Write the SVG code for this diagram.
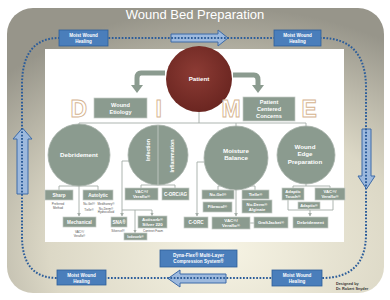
<svg xmlns="http://www.w3.org/2000/svg" width="390" height="300" viewBox="0 0 390 300">
<defs>
<radialGradient id="bg" cx="0.58" cy="0.85" r="0.85">
<stop offset="0" stop-color="#f6f3e3"/>
<stop offset="0.55" stop-color="#dcd8c6"/>
<stop offset="1" stop-color="#97958a"/>
</radialGradient>
<radialGradient id="pt" cx="0.45" cy="0.4" r="0.6">
<stop offset="0" stop-color="#8c3b34"/>
<stop offset="1" stop-color="#6b2621"/>
</radialGradient>
<marker id="ah" viewBox="0 0 6 6" refX="5" refY="3" markerWidth="4" markerHeight="4" orient="auto">
<path d="M0,0 L6,3 L0,6 Z" fill="#a4ada7"/>
</marker>
</defs>
<style>
.bx{fill:#8b9b8f;stroke:#c5ccc7;stroke-width:0.7}
.ci{fill:#8b9b8f;stroke:#a8b3ab;stroke-width:0.8}
.t{font-family:"Liberation Sans",Arial,sans-serif;font-weight:bold;fill:#fff;text-anchor:middle}
.s{font-size:4.6px}
.m{font-size:6.2px}
.tiny{font-family:"Liberation Sans",Arial,sans-serif;font-size:3px;fill:#555;text-anchor:middle}
.ln{fill:none;stroke:#a4ada7;stroke-width:0.9}
.lt{font-family:"Liberation Sans",Arial,sans-serif;font-weight:bold;font-size:23px;fill:#fff;stroke:#d6b48f;stroke-width:0.9}
.bl{fill:#4a7ebb;stroke:#2f5f9a;stroke-width:0.8}
.dot{fill:none;stroke:#2c5d9a;stroke-width:2;stroke-dasharray:1.7 1.6}
.arr{fill:#9db9dd;stroke:#3d6ba8;stroke-width:1}
</style>
<rect x="7" y="8" width="377" height="285" rx="26" fill="url(#bg)"/>
<text x="195" y="19" font-family="Liberation Sans, Arial, sans-serif" font-size="13" fill="#fff" text-anchor="middle">Wound Bed Preparation</text>
<rect x="45" y="49" width="299" height="193" fill="#fff"/>

<g id="arrows-big">
<path class="arr" d="M171,34 L218,34 L218,30 L228,38 L218,46 L218,42 L171,42 Z"/>
<path class="arr" d="M362,129 L371,129 L371,176 L375,176 L366.5,189 L358,176 L362,176 Z"/>
<path class="arr" d="M226,274 L180,274 L180,270 L168,278.5 L180,287 L180,283 L226,283 Z"/>
<path class="arr" d="M17,194 L28,194 L28,139 L32,139 L22.5,128 L13,139 L17,139 Z"/>
</g>
<path class="dot" d="M59,38 L321,38 Q366,38 366,88 L366,234 Q366,278 322,278 L57,278 Q22,278 22,236 L22,85 Q22,38 59,38 Z"/>

<g id="moist-tl"><rect class="bl" x="59" y="30" width="49" height="16"/><text class="t s" x="83.5" y="37">Moist Wound</text><text class="t s" x="83.5" y="43">Healing</text></g>
<g id="moist-tr"><rect class="bl" x="274" y="30" width="47" height="16"/><text class="t s" x="297.5" y="37">Moist Wound</text><text class="t s" x="297.5" y="43">Healing</text></g>
<g id="moist-bl"><rect class="bl" x="57" y="270" width="49" height="15"/><text class="t s" x="81.5" y="276.5">Moist Wound</text><text class="t s" x="81.5" y="282.5">Healing</text></g>
<g id="moist-br"><rect class="bl" x="272" y="270" width="50" height="16"/><text class="t s" x="297" y="277">Moist Wound</text><text class="t s" x="297" y="283">Healing</text></g>
<g id="dynaflex"><rect class="bl" x="160" y="250" width="77" height="17"/><text class="t s" x="198.5" y="257">Dyna-Flex® Multi-Layer</text><text class="t s" x="198.5" y="263">Compression System®</text></g>

<g id="connectors">
<path class="ln" d="M199,112 V123 M79,123 H306 M79,123 V125 M236,123 V127 M306,123 V127"/>
<path d="M165,73 H141 Q137,73 137,78 V86" fill="none" stroke="#8b9b8f" stroke-width="5"/>
<path d="M131,85 H143 L137,93 Z" fill="#8b9b8f"/>
<path d="M233,75 H254 Q258,75 258,80 V86" fill="none" stroke="#8b9b8f" stroke-width="5"/>
<path d="M252,85 H264 L258,93 Z" fill="#8b9b8f"/>
<path class="ln" d="M59,190 V186 H98 V190"/>
<path class="ln" d="M79,186 V216" marker-end="url(#ah)"/>
<path class="ln" d="M141,188 V185 H175 V188"/>
<path class="ln" d="M129,161 H122 V216" marker-end="url(#ah)"/>
<path class="ln" d="M122,210 H152 V215.5" marker-end="url(#ah)"/>
<path class="ln" d="M135,210 V232.5" marker-end="url(#ah)"/>
<path class="ln" d="M205,162 H197 V216" marker-end="url(#ah)"/>
<path class="ln" d="M236,190 V216" marker-end="url(#ah)"/>
<path class="ln" d="M218,190 V186 H255 V190"/>
<path class="ln" d="M250,223 H254"/>
<path class="ln" d="M306,184 V186 M293,188 V186 H330 V188"/>
<path class="ln" d="M288,200 V210 H333 V200"/>
<path class="ln" d="M310,210 V216" marker-end="url(#ah)"/>
<path class="ln" d="M308,208 V210"/>
</g>

<g id="patient"><circle cx="199" cy="79" r="33" fill="url(#pt)"/><text class="t m" x="199" y="81">Patient</text></g>
<g id="wound-etiology"><rect class="bx" x="94" y="98" width="53" height="20"/><text class="t" font-size="5.6" x="120.5" y="106.5">Wound</text><text class="t" font-size="5.6" x="120.5" y="113.5">Etiology</text></g>
<g id="pcc"><rect class="bx" x="243" y="97" width="52" height="24"/><text class="t" font-size="5.6" x="269" y="104">Patient</text><text class="t" font-size="5.6" x="269" y="111">Centered</text><text class="t" font-size="5.6" x="269" y="118">Concerns</text></g>
<g id="letters"><text class="lt" x="70.5" y="117">D</text><text class="lt" x="155.5" y="117">I</text><text class="lt" x="221.5" y="117">M</text><text class="lt" x="301.5" y="117">E</text></g>

<g id="debridement-c"><circle class="ci" cx="79" cy="155" r="31"/><text class="t m" x="79" y="157">Debridement</text></g>
<g id="infection-c"><circle class="ci" cx="158" cy="155" r="30"/><line x1="158" y1="125" x2="158" y2="185" stroke="#c8cec9" stroke-width="0.8"/><text class="t" font-size="5.3" transform="translate(150,150) rotate(-90)">Infection</text><text class="t" font-size="5.3" transform="translate(174,156) rotate(-90)">Inflammation</text></g>
<g id="moisture-c"><circle class="ci" cx="236" cy="158" r="32"/><text class="t m" x="236" y="152.5">Moisture</text><text class="t m" x="236" y="160">Balance</text></g>
<g id="edge-c"><circle class="ci" cx="306" cy="155" r="29"/><text class="t m" x="305" y="148.5">Wound</text><text class="t m" x="305" y="156">Edge</text><text class="t m" x="305" y="163.5">Preparation</text></g>

<g id="sharp"><rect class="bx" x="45" y="190" width="28" height="10"/><text class="t s" x="59" y="196.6">Sharp</text></g>
<text class="tiny" x="58" y="205">Preferred</text><text class="tiny" x="58" y="208.5">Method</text>
<g id="autolytic"><rect class="bx" x="83" y="190" width="30" height="10"/><text class="t s" x="98" y="196.6">Autolytic</text></g>
<text class="tiny" x="89" y="205">Nu-Gel®</text><text class="tiny" x="89" y="211">Tielle®</text>
<text class="tiny" x="106" y="205">Medihoney®</text><text class="tiny" x="106" y="209.5">Nu-Derm®</text><text class="tiny" x="106" y="212.5">Hydrocolloid</text>
<g id="mechanical"><rect class="bx" x="63" y="217" width="33" height="10"/><text class="t s" x="79.5" y="223.6">Mechanical</text></g>
<text class="tiny" x="79.5" y="233">VAC®/</text><text class="tiny" x="79.5" y="237">Veraflo®</text>

<g id="vac-inf"><rect class="bx" x="125" y="188" width="33" height="12"/><text class="t" font-size="4.2" x="141.5" y="193">VAC®/</text><text class="t" font-size="4.2" x="141.5" y="198">Veraflo®</text></g>
<g id="corcag"><rect class="bx" x="162" y="188" width="27" height="12"/><text class="t s" x="175.5" y="195.6">C-ORC/AG</text></g>
<g id="sna"><rect class="bx" x="111" y="217" width="16" height="10"/><text class="t s" x="119" y="223.6">SNA®</text></g>
<text class="tiny" x="118" y="232">Silvercel®</text>
<g id="actisorb"><rect class="bx" x="138" y="216" width="29" height="12"/><text class="t" font-size="4.4" x="152.5" y="221">Actisorb®</text><text class="t" font-size="4.4" x="152.5" y="226.3">Silver 220</text></g>
<text class="tiny" x="153" y="232">Contreet Foam</text>
<g id="iodosorb"><rect class="bx" x="124" y="233" width="23" height="7"/><text class="t" font-size="3.3" x="135.5" y="237.8">Iodosorb®</text></g>
<g id="corc"><rect class="bx" x="184" y="217" width="24" height="11"/><text class="t s" x="196" y="224">C-ORC</text></g>

<g id="nugel"><rect class="bx" x="202" y="190" width="32" height="9"/><text class="t" font-size="4.2" x="218" y="196">Nu-Gel®</text></g>
<g id="tielle"><rect class="bx" x="242" y="190" width="27" height="9"/><text class="t" font-size="4.2" x="255.5" y="196">Tielle®</text></g>
<g id="fibracol"><rect class="bx" x="203" y="202" width="29" height="10"/><text class="t" font-size="4.2" x="217.5" y="208.4">Fibracol®</text></g>
<g id="nuderm"><rect class="bx" x="242" y="200" width="30" height="13"/><text class="t" font-size="4.2" x="257" y="205.5">Nu-Derm®</text><text class="t" font-size="4.2" x="257" y="210.6">Alginate</text></g>
<g id="vac-moist"><rect class="bx" x="212" y="217" width="38" height="12"/><text class="t" font-size="4.4" x="231" y="222">VAC®/</text><text class="t" font-size="4.4" x="231" y="227.2">Veraflo®</text></g>
<g id="graftjacket"><rect class="bx" x="254" y="217" width="34" height="11"/><text class="t" font-size="4.2" x="271" y="224">GraftJacket®</text></g>

<g id="adaptic-touch"><rect class="bx" x="282" y="188" width="22" height="12"/><text class="t" font-size="4.2" x="293" y="193">Adaptic</text><text class="t" font-size="4.2" x="293" y="198">Touch®</text></g>
<g id="vac-edge"><rect class="bx" x="315" y="188" width="30" height="12"/><text class="t" font-size="4.2" x="330" y="193">VAC®/</text><text class="t" font-size="4.2" x="330" y="198">Veraflo®</text></g>
<g id="adaptic"><rect class="bx" x="298" y="202" width="22" height="7"/><text class="t" font-size="4" x="309" y="207">Adaptic®</text></g>
<g id="debridement-b"><rect class="bx" x="293" y="217" width="35" height="11"/><text class="t" font-size="4.4" x="310.5" y="224">Debridement</text></g>

<text x="336" y="285" font-family="Liberation Sans, Arial, sans-serif" font-size="3.8" font-weight="bold" fill="#333">Designed by</text>
<text x="336" y="290" font-family="Liberation Sans, Arial, sans-serif" font-size="3.8" font-weight="bold" fill="#333">Dr. Robert Snyder</text>
</svg>
